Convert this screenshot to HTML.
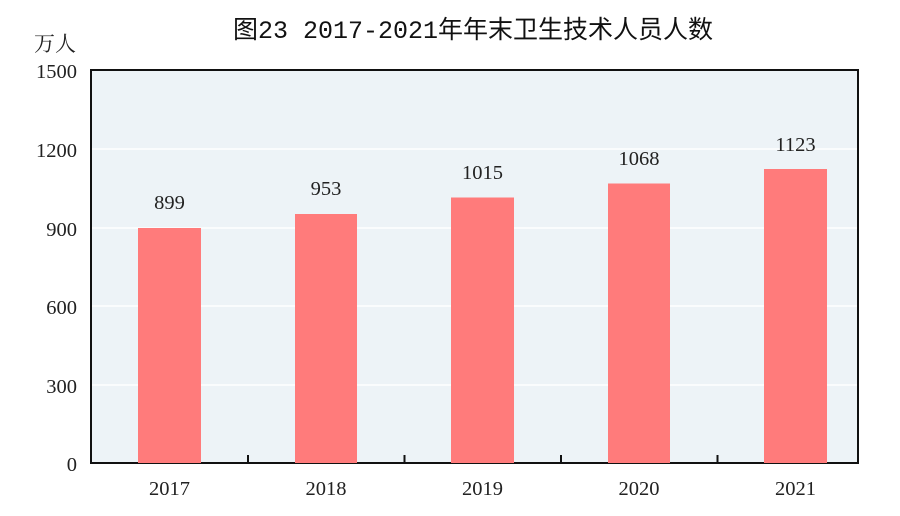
<!DOCTYPE html>
<html><head><meta charset="utf-8"><style>
html,body{margin:0;padding:0;background:#fff;width:900px;height:516px;overflow:hidden}
svg text{font-family:"Liberation Serif","Noto Serif CJK SC",serif;fill:#222}
</style></head><body>
<svg width="900" height="516" viewBox="0 0 900 516">
<text x="473" y="38" text-anchor="middle" font-size="25" style="font-family:'Liberation Mono','Noto Sans CJK SC',monospace;fill:#111">图23  2017-2021年年末卫生技术人员人数</text>
<text x="34" y="51" font-size="21" style="font-family:'Noto Serif CJK SC',serif">万人</text>
<rect x="91" y="70" width="767" height="393" fill="#edf3f7" stroke="#111" stroke-width="2"/>
<g stroke="#fff" stroke-width="1.5">
<line x1="92" x2="857" y1="149" y2="149"/><line x1="92" x2="857" y1="228" y2="228"/>
<line x1="92" x2="857" y1="306" y2="306"/><line x1="92" x2="857" y1="385" y2="385"/>
</g>
<g fill="#ff7b7b">
<rect x="138" y="228" width="63" height="235"/>
<rect x="295" y="214" width="62" height="249"/>
<rect x="451" y="197.5" width="63" height="265.5"/>
<rect x="608" y="183.5" width="62" height="279.5"/>
<rect x="764" y="169" width="63" height="294"/>
</g>
<g stroke="#111" stroke-width="2">
<line x1="248" x2="248" y1="455" y2="463"/><line x1="404.5" x2="404.5" y1="455" y2="463"/>
<line x1="561" x2="561" y1="455" y2="463"/><line x1="717.5" x2="717.5" y1="455" y2="463"/>
</g>
<g font-size="20.5" text-anchor="end">
<text x="77" y="78">1500</text><text x="77" y="157">1200</text><text x="77" y="236">900</text>
<text x="77" y="314">600</text><text x="77" y="393">300</text><text x="77" y="471">0</text>
</g>
<g font-size="20.5" text-anchor="middle">
<text x="169.5" y="495">2017</text><text x="326" y="495">2018</text><text x="482.5" y="495">2019</text>
<text x="639" y="495">2020</text><text x="795.5" y="495">2021</text>
<text x="169.5" y="209">899</text><text x="326" y="195">953</text><text x="482.5" y="179">1015</text>
<text x="639" y="165">1068</text><text x="795.5" y="151">1123</text>
</g>
</svg>
</body></html>
